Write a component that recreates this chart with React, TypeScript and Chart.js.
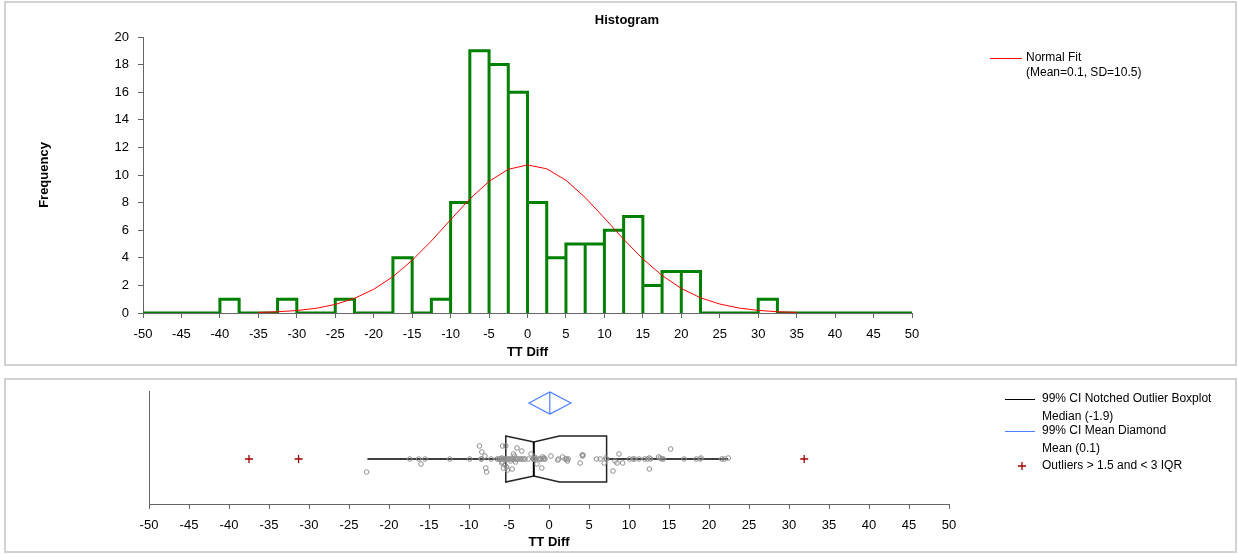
import React, { useEffect, useRef } from 'react';
import { Chart, registerables } from 'chart.js';

Chart.register(...registerables);

const FONT = '"Liberation Sans", Arial, Helvetica, sans-serif';

// ---------- Histogram data ----------
const binStarts = [
  -50, -47.5, -45, -42.5, -40, -37.5, -35, -32.5, -30, -27.5,
  -25, -22.5, -20, -17.5, -15, -12.5, -10, -7.5, -5, -2.5,
  0, 2.5, 5, 7.5, 10, 12.5, 15, 17.5, 20, 22.5,
  25, 27.5, 30, 32.5, 35, 37.5, 40, 42.5, 45, 47.5,
];
const binCounts = [
  0, 0, 0, 0, 1, 0, 0, 1, 0, 0,
  1, 0, 0, 4, 0, 1, 8, 19, 18, 16,
  8, 4, 5, 5, 6, 7, 2, 3, 3, 0,
  0, 0, 1, 0, 0, 0, 0, 0, 0, 0,
];
const BIN_WIDTH = 2.5;

const normalX = [
  -35, -32.5, -30, -27.5, -25, -22.5, -20, -17.5, -15, -12.5, -10, -7.5, -5, -2.5,
  0, 2.5, 5, 7.5, 10, 12.5, 15, 17.5, 20, 22.5, 25, 27.5, 30, 32.5, 35,
];
const normalY = [
  0.04, 0.09, 0.18, 0.34, 0.62, 1.06, 1.72, 2.63, 3.82, 5.22, 6.76, 8.26, 9.54, 10.41,
  10.73, 10.45, 9.62, 8.37, 6.88, 5.34, 3.92, 2.72, 1.78, 1.1, 0.65, 0.36, 0.19, 0.09, 0.04,
];

const X_MIN = -50;
const X_MAX = 50;
const X_STEP = 5;
const Y_MIN = 0;
const Y_MAX = 20;
const Y_STEP = 2;

// ---------- Boxplot data ----------
const dotValues = [
  -22.8,
  -17.4, -16.3, -16.0, -15.5,
  -12.4,
  -9.9, -8.7, -8.4, -8.4, -8.0, -7.9, -7.8, -8.5,
  -7.25, -6.5, -6.3, -6.1, -6.0, -5.9, -5.8, -5.9, -5.7, -5.7, -5.6, -5.5, -5.5, -5.4, -5.3, -5.3, -5.2, -5.1, -5.8,
  -4.9, -4.8, -4.7, -4.6, -4.5, -4.45, -4.3, -4.25, -4.2, -4.05, -4.0, -3.85, -3.6, -3.4, -3.4, -3.2, -3.0, -2.6,
  -2.25, -2.0, -1.95, -1.9, -1.85, -1.8, -1.7, -1.5, -1.3, -1.1, -1.0, -0.9, -0.8, -0.7, -0.6, -0.5,
  0.25, 1.1, 1.2, 1.7, 2.0, 2.2, 2.3, 2.4,
  3.9, 4.15, 4.2, 4.25,
  5.96, 6.4, 6.9, 7.1, 7.2,
  8.0, 8.25, 8.5, 8.75, 9.2,
  10.05, 10.5, 10.7, 11.25, 11.96, 12.3,
  12.54, 12.54, 12.7, 13.7, 13.9, 14.1, 14.3,
  15.2, 16.9,
  18.4, 18.9, 19.0,
  21.6, 21.9, 22.4,
];
const dotJitter = [
  -13,
  0, 0, -5, 0,
  0,
  0, 13, 7, 0, 3, -9, -13, 0,
  0, 0, 0, 0, 0, 1, 13, -4, -9, 0, 0, 0, -6, 13, -8, 0, -11, 0, -3,
  0, -2, 0, -10, 0, 5, 3, 0, -3, 0, 11, 0, 0, 8, 0, 0, 0, 0,
  5, 0, 0, 0, 0, 2, 0, -5, 0, 0, 0, -9, 2, 0, 1, 0,
  3, -1, 0, 2, 0, 0, -2, 0,
  -4, 4, 3, 4,
  0, 0, -4, 1, 0,
  -12, -2, -4, 5, -4,
  0, 0, 0, 0, 0, 0,
  1, -10, 0, 2, 1, 0, 0,
  10, 0,
  0, 0, 1,
  0, 0, 1,
];
const outlierValues = [-37.5, -31.3, 31.9];

const Q1 = -5.4;
const MEDIAN = -1.9;
const Q3 = 7.2;
const NOTCH_LO = -5.4;
const NOTCH_HI = 1.3;
const WHISKER_LO = -22.7;
const WHISKER_HI = 22.4;
const MEAN = 0.1;
const MEAN_LO = -2.5;
const MEAN_HI = 2.75;

// vertical layout of the box panel (in its y-scale units)
const BOX_Y_MIN = -45;
const BOX_Y_MAX = 68;
const BOX_HALF = 23;
const NOTCH_HALF = 17;
const DIAMOND_Y = 56;
const DIAMOND_HALF = 11;

const AXIS_COLOR = '#666666';
const BLUE = '#4a80ff';
const DARK_RED = '#a00000';

const tickFont = { size: 13, family: FONT };
const titleFont = { size: 13, weight: 'bold' as const, family: FONT };

const topTextPlugin = {
  id: 'topText',
  afterDraw(chart: any) {
    const ctx = chart.ctx as CanvasRenderingContext2D;
    ctx.save();
    ctx.fillStyle = '#000';
    ctx.textBaseline = 'middle';
    ctx.textAlign = 'center';
    ctx.font = `bold 13px ${FONT}`;
    ctx.fillText('Histogram', 627, 20);
    ctx.strokeStyle = '#ff0000';
    ctx.lineWidth = 1;
    ctx.beginPath();
    ctx.moveTo(990, 58.5);
    ctx.lineTo(1022, 58.5);
    ctx.stroke();
    ctx.textAlign = 'left';
    ctx.font = `12px ${FONT}`;
    ctx.fillText('Normal Fit', 1026, 57.5);
    ctx.fillText('(Mean=0.1, SD=10.5)', 1026, 73);
    ctx.restore();
  },
};

const boxPlugin = {
  id: 'notchedBox',
  beforeDatasetsDraw(chart: any) {
    const ctx = chart.ctx as CanvasRenderingContext2D;
    const xs = chart.scales.x;
    const ys = chart.scales.y;
    const X = (v: number) => xs.getPixelForValue(v);
    const Y = (v: number) => ys.getPixelForValue(v);
    ctx.save();
    // whiskers
    ctx.strokeStyle = '#000';
    ctx.lineWidth = 1.5;
    ctx.beginPath();
    ctx.moveTo(X(WHISKER_LO), Y(0));
    ctx.lineTo(X(Q1), Y(0));
    ctx.moveTo(X(Q3), Y(0));
    ctx.lineTo(X(WHISKER_HI), Y(0));
    ctx.stroke();
    // notched box
    ctx.strokeStyle = '#222';
    ctx.lineWidth = 1.5;
    ctx.lineJoin = 'miter';
    ctx.beginPath();
    ctx.moveTo(X(Q1), Y(BOX_HALF));
    ctx.lineTo(X(NOTCH_LO), Y(BOX_HALF));
    ctx.lineTo(X(MEDIAN), Y(NOTCH_HALF));
    ctx.lineTo(X(NOTCH_HI), Y(BOX_HALF));
    ctx.lineTo(X(Q3), Y(BOX_HALF));
    ctx.lineTo(X(Q3), Y(-BOX_HALF));
    ctx.lineTo(X(NOTCH_HI), Y(-BOX_HALF));
    ctx.lineTo(X(MEDIAN), Y(-NOTCH_HALF));
    ctx.lineTo(X(NOTCH_LO), Y(-BOX_HALF));
    ctx.lineTo(X(Q1), Y(-BOX_HALF));
    ctx.closePath();
    ctx.stroke();
    // median
    ctx.strokeStyle = '#000';
    ctx.lineWidth = 2;
    ctx.beginPath();
    ctx.moveTo(X(MEDIAN), Y(NOTCH_HALF));
    ctx.lineTo(X(MEDIAN), Y(-NOTCH_HALF));
    ctx.stroke();
    // mean diamond
    ctx.strokeStyle = BLUE;
    ctx.lineWidth = 1.2;
    ctx.beginPath();
    ctx.moveTo(X(MEAN_LO), Y(DIAMOND_Y));
    ctx.lineTo(X(MEAN), Y(DIAMOND_Y + DIAMOND_HALF));
    ctx.lineTo(X(MEAN_HI), Y(DIAMOND_Y));
    ctx.lineTo(X(MEAN), Y(DIAMOND_Y - DIAMOND_HALF));
    ctx.closePath();
    ctx.moveTo(X(MEAN), Y(DIAMOND_Y + DIAMOND_HALF));
    ctx.lineTo(X(MEAN), Y(DIAMOND_Y - DIAMOND_HALF));
    ctx.stroke();
    ctx.restore();
  },
  afterDraw(chart: any) {
    const ctx = chart.ctx as CanvasRenderingContext2D;
    ctx.save();
    ctx.lineWidth = 1;
    ctx.strokeStyle = '#000';
    ctx.beginPath();
    ctx.moveTo(1005, 29.5);
    ctx.lineTo(1035, 29.5);
    ctx.stroke();
    ctx.strokeStyle = BLUE;
    ctx.beginPath();
    ctx.moveTo(1005, 61.5);
    ctx.lineTo(1035, 61.5);
    ctx.stroke();
    ctx.strokeStyle = DARK_RED;
    ctx.lineWidth = 1.3;
    ctx.beginPath();
    ctx.moveTo(1018, 96);
    ctx.lineTo(1026, 96);
    ctx.moveTo(1022, 92);
    ctx.lineTo(1022, 100);
    ctx.stroke();
    ctx.fillStyle = '#000';
    ctx.font = `12px ${FONT}`;
    ctx.textAlign = 'left';
    ctx.textBaseline = 'middle';
    ctx.fillText('99% CI Notched Outlier Boxplot', 1042, 29);
    ctx.fillText('Median (-1.9)', 1042, 46.5);
    ctx.fillText('99% CI Mean Diamond', 1042, 61);
    ctx.fillText('Mean (0.1)', 1042, 78.5);
    ctx.fillText('Outliers > 1.5 and < 3 IQR', 1042, 96);
    ctx.restore();
  },
};

function xScale(height: number, titleBottom: number) {
  return {
    type: 'linear' as const,
    min: X_MIN,
    max: X_MAX,
    afterFit: (s: any) => {
      s.height = height;
    },
    ticks: {
      stepSize: X_STEP,
      autoSkip: false,
      maxRotation: 0,
      color: '#000',
      padding: 9,
      font: tickFont,
    },
    grid: { display: true, drawOnChartArea: false, drawTicks: true, tickLength: 5, color: AXIS_COLOR },
    border: { display: true, color: AXIS_COLOR, width: 1 },
    title: {
      display: true,
      text: 'TT Diff',
      color: '#000',
      font: titleFont,
      padding: { top: 0, bottom: titleBottom },
    },
  };
}

export default function App() {
  const topRef = useRef<HTMLCanvasElement | null>(null);
  const botRef = useRef<HTMLCanvasElement | null>(null);

  useEffect(() => {
    if (!topRef.current || !botRef.current) return;

    const histPath: { x: number; y: number }[] = [];
    binStarts.forEach((start, i) => {
      const end = start + BIN_WIDTH;
      const h = binCounts[i];
      histPath.push({ x: start, y: 0 }, { x: start, y: h }, { x: end, y: h }, { x: end, y: 0 });
    });
    const normalPts = normalX.map((x, i) => ({ x, y: normalY[i] }));

    const top = new Chart(topRef.current, {
      type: 'line',
      data: {
        datasets: [
          {
            label: 'Normal Fit',
            data: normalPts,
            borderColor: '#ff0000',
            borderWidth: 1,
            pointRadius: 0,
            tension: 0,
            fill: false,
            order: 0,
          },
          {
            label: 'Histogram',
            data: histPath,
            borderColor: '#008000',
            borderWidth: 3,
            pointRadius: 0,
            tension: 0,
            fill: false,
            borderJoinStyle: 'miter',
            order: 1,
          },
        ],
      },
      options: {
        responsive: false,
        animation: false,
        devicePixelRatio: 1,
        events: [],
        layout: { padding: { left: 0, right: 1238 - 912, top: 37, bottom: 0 } },
        plugins: { legend: { display: false }, tooltip: { enabled: false }, title: { display: false } },
        scales: {
          x: xScale(55, 8),
          y: {
            type: 'linear',
            min: Y_MIN,
            max: Y_MAX,
            afterFit: (s: any) => {
              s.width = 143;
            },
            ticks: { stepSize: Y_STEP, color: '#000', padding: 9, font: tickFont },
            grid: { display: true, drawOnChartArea: false, drawTicks: true, tickLength: 5, color: AXIS_COLOR },
            border: { display: true, color: AXIS_COLOR, width: 1 },
            title: {
              display: true,
              text: 'Frequency',
              color: '#000',
              font: titleFont,
              padding: { top: 37, bottom: 0 },
            },
          },
        },
      } as any,
      plugins: [topTextPlugin],
    });

    const dots = dotValues.map((x, i) => ({ x, y: dotJitter[i] }));
    const outliers = outlierValues.map((x) => ({ x, y: 0 }));

    const bot = new Chart(botRef.current, {
      type: 'scatter',
      data: {
        datasets: [
          {
            label: 'Outliers',
            data: outliers,
            pointStyle: 'cross',
            pointRadius: 4,
            borderColor: DARK_RED,
            backgroundColor: DARK_RED,
            pointBorderWidth: 1.3,
            order: 0,
          },
          {
            label: 'Observations',
            data: dots,
            pointStyle: 'circle',
            pointRadius: 2.3,
            borderColor: '#8f8f8f',
            backgroundColor: 'rgba(255,255,255,0)',
            pointBorderWidth: 1,
            order: 1,
          },
        ],
      },
      options: {
        responsive: false,
        animation: false,
        devicePixelRatio: 1,
        events: [],
        layout: { padding: { left: 0, right: 1238 - 949, top: 21, bottom: 0 } },
        plugins: { legend: { display: false }, tooltip: { enabled: false }, title: { display: false } },
        scales: {
          x: xScale(50, 3.5),
          y: {
            type: 'linear',
            min: BOX_Y_MIN,
            max: BOX_Y_MAX,
            afterFit: (s: any) => {
              s.width = 149;
            },
            ticks: { display: false },
            grid: { display: false },
            border: { display: true, color: AXIS_COLOR, width: 1 },
          },
        },
      } as any,
      plugins: [boxPlugin],
    });

    return () => {
      top.destroy();
      bot.destroy();
    };
  }, []);

  const panel = (topPx: number, height: number): React.CSSProperties => ({
    position: 'absolute',
    left: 4,
    top: topPx,
    width: 1233,
    height,
    border: '2px solid #d2d2d2',
    boxSizing: 'border-box',
  });

  return (
    <div style={{ position: 'absolute', left: 0, top: 0, width: 1238, height: 554, background: '#fff', overflow: 'hidden' }}>
      <div style={panel(1, 365)} />
      <div style={panel(378, 175)} />
      <canvas ref={topRef} width={1238} height={368} style={{ position: 'absolute', left: 0, top: 0, width: 1238, height: 368 }} />
      <canvas ref={botRef} width={1238} height={184} style={{ position: 'absolute', left: 0, top: 370, width: 1238, height: 184 }} />
    </div>
  );
}
